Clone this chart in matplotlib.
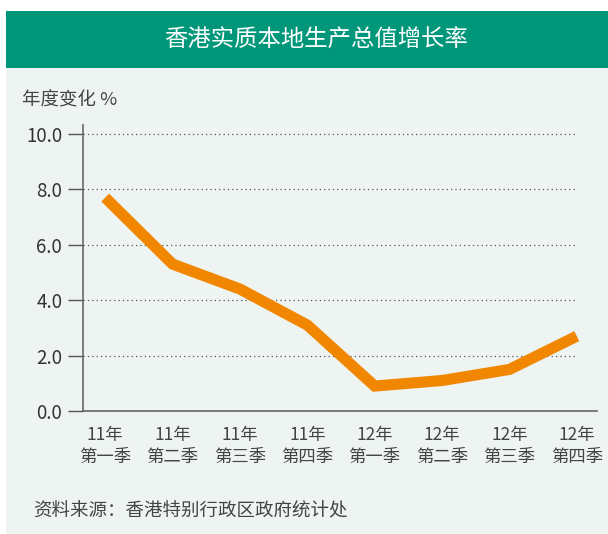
import matplotlib.pyplot as plt
from matplotlib.patches import Rectangle

plt.rcParams['font.family'] = ['Noto Sans CJK SC', 'DejaVu Sans']

years = ['11年', '11年', '11年', '11年', '12年', '12年', '12年', '12年']
quarters = ['第一季', '第二季', '第三季', '第四季', '第一季', '第二季', '第三季', '第四季']
growth = [7.7, 5.3, 4.4, 3.1, 0.9, 1.1, 1.5, 2.7]
yticks = [0.0, 2.0, 4.0, 6.0, 8.0, 10.0]

W, H = 608, 534
fig = plt.figure(figsize=(W / 100, H / 100), dpi=100)
fig.patch.set_facecolor('white')

# background panel and header band
fig.patches.append(Rectangle((6 / W, 0), 1 - 6 / W, 1 - 68 / H, transform=fig.transFigure,
                             facecolor='#eef4f1', edgecolor='none', zorder=-2))
fig.patches.append(Rectangle((6 / W, 1 - 68 / H), 1 - 6 / W, 57 / H, transform=fig.transFigure,
                             facecolor='#00967a', edgecolor='none', zorder=-2))
fig.text(316 / W, 1 - 40 / H, '香港实质本地生产总值增长率', color='white', fontsize=16.8,
         ha='center', va='center')

ax = fig.add_axes([83 / W, 1 - 411 / H, (597 - 83) / W, (411 - 125) / H])
ax.set_facecolor('none')

x = list(range(len(growth)))
ax.plot(x, growth, color='#f18700', linewidth=8, solid_capstyle='butt',
        solid_joinstyle='miter', zorder=3)

ax.set_xlim(-0.33, 7.3)
ax.set_ylim(0, 10.32)
ax.set_yticks(yticks)
ax.set_yticklabels([f'{v:.1f}' for v in yticks], fontsize=13.5, color='#333333')
for v in yticks[1:]:
    ax.plot([-0.33, 7.0], [v, v], linestyle=(0, (1, 2.5)), color='#555555', linewidth=0.9,
            zorder=1, clip_on=False)

ax.set_xticks(x)
ax.set_xticklabels([f'{a}\n{b}' for a, b in zip(years, quarters)], fontsize=12.5,
                   color='#444444', linespacing=1.3)
ax.tick_params(axis='x', length=0, pad=11)
ax.tick_params(axis='y', length=11, width=1, color='#555555', pad=4)

for s in ['top', 'right']:
    ax.spines[s].set_visible(False)
for s in ['left', 'bottom']:
    ax.spines[s].set_color('#666666')
    ax.spines[s].set_linewidth(1.2)

fig.text(22 / W, 1 - 100 / H, '年度变化 %', fontsize=13.3, color='#444444', va='center')
fig.text(33 / W, 1 - 510 / H, '资料来源：香港特别行政区政府统计处', fontsize=13.3,
         color='#444444', va='center')

fig.savefig('out.png', dpi=100)
